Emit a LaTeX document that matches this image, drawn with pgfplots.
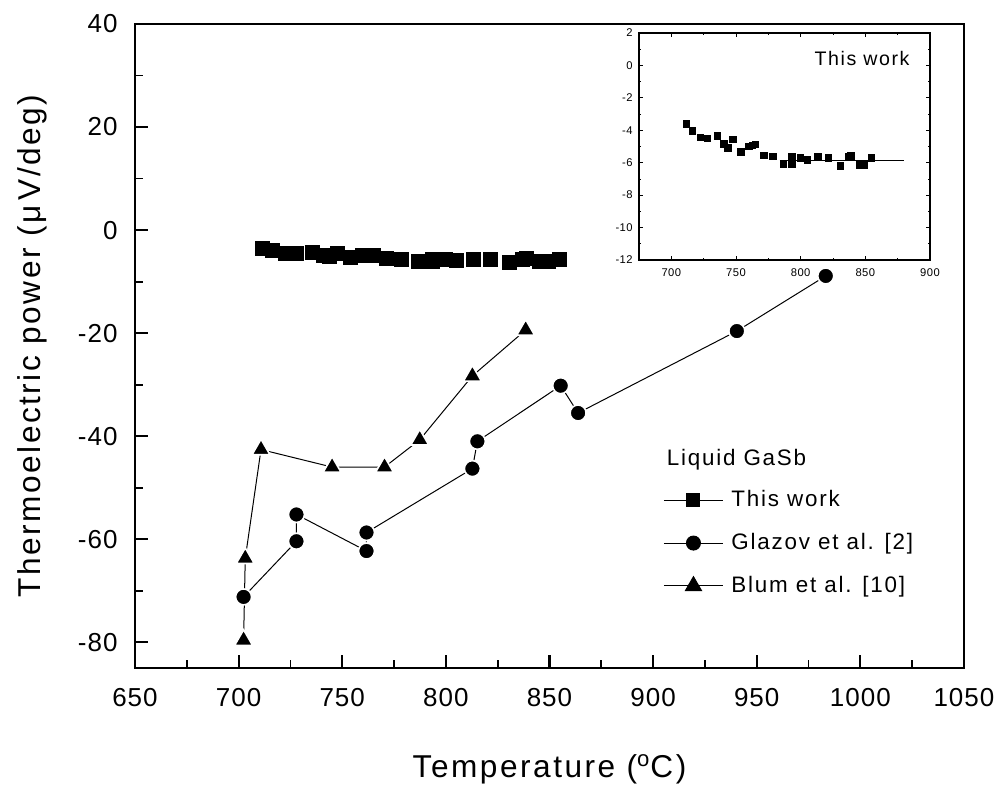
\documentclass[border=0pt]{standalone}
\usepackage{fontspec}
\setmainfont{Liberation Sans}[LetterSpace=8]
\newfontfamily\tickfont{Liberation Sans}[LetterSpace=4]
\usepackage{pgfplots}
\pgfplotsset{compat=1.18}

% this work: thermopower of liquid GaSb (uV/deg)
\pgfplotstableread{
T S
711.6 -3.60
716.3 -4.03
722.5 -4.43
727.9 -4.49
735.6 -4.34
740.8 -4.83
743.9 -5.10
747.7 -4.55
753.9 -5.35
759.9 -5.00
762.7 -4.94
765.0 -4.86
771.5 -5.55
778.7 -5.62
786.7 -6.07
793.4 -6.07
793.4 -5.62
799.9 -5.72
805.3 -5.83
813.5 -5.62
821.3 -5.72
830.6 -6.18
837.0 -5.62
838.8 -5.58
845.3 -6.13
849.4 -6.13
854.6 -5.72
}\thiswork

\pgfplotstableread{
T S
702.4 -71.2
727.9 -60.4
727.9 -55.2
761.7 -62.3
761.7 -58.7
812.8 -46.3
815.2 -41.0
855.4 -30.2
863.8 -35.5
940.4 -19.6
983.3 -8.9
}\glazov

\pgfplotstableread{
T S
702.4 -79.6
703.2 -63.7
710.8 -42.6
745.1 -46.0
770.4 -46.0
787.4 -40.7
812.8 -28.3
838.5 -19.4
}\blum

\begin{document}
\begin{tikzpicture}
\path[use as bounding box] (-67.5pt,-60pt) rectangle (433pt,334pt);
\begin{axis}[
    at={(0pt,0pt)}, anchor=south west,
    scale only axis,
    width=414.5pt, height=322pt,
    xmin=650, xmax=1050,
    ymin=-85, ymax=40,
    xtick={650,700,...,1050},
    ytick={-80,-60,...,40},
    minor x tick num=1,
    minor y tick num=1,
    tick pos=left,
    tick align=inside,
    major tick length=6.5pt,
    minor tick length=4pt,
    major tick style={black, line width=1.1pt},
    minor tick style={black, line width=0.9pt},
    axis line style={line width=1.1pt},
    /pgf/number format/assume math mode=true,
    /pgf/number format/set thousands separator={},
    ticklabel style={font=\tickfont\fontsize{13}{15}\selectfont},
    xticklabel style={anchor=base, yshift=-19pt, inner sep=0pt},
    yticklabel style={anchor=east, xshift=-8.5pt, inner sep=0pt},
    xlabel={Temperature (\textsuperscript{o}C)},
    ylabel={Thermoelectric power (μ\,V/deg)},
    label style={font=\fontsize{15.8}{18}\selectfont},
    xlabel style={at={(rel axis cs:0.5,0)}, anchor=base, yshift=-54.5pt, inner sep=0pt},
    ylabel style={at={(rel axis cs:-0.1242,0.5)}, anchor=center, inner sep=0pt},
    legend style={draw=none, fill=none, at={(rel axis cs:0.637,0.194)}, anchor=west,
        font=\fontsize{11.2}{13}\selectfont, row sep=7.8pt, inner xsep=0pt,
        nodes={inner xsep=4pt}},
    legend cell align=left,
    legend image code/.code={
        \draw[mark repeat=2, mark phase=2, #1] plot coordinates {(0pt,0pt) (14.75pt,0pt) (29.5pt,0pt)};
    },
]
\addlegendimage{black, line width=0.5pt, mark=square*, mark size=3.25pt, mark options={fill=black}}
\addlegendentry{This work}
\addlegendimage{black, line width=0.5pt, mark=*, mark size=3.5pt, mark options={fill=black}}
\addlegendentry{Glazov et al. [2]}
\addlegendimage{black, line width=0.5pt, mark=triangle*, mark size=4.6pt, mark options={fill=black}}
\addlegendentry{Blum et al. [10]}

\addplot[forget plot, only marks, mark=square*, mark size=3.5pt, mark options={fill=black, draw=black}]
    table[x=T, y=S] {\thiswork};
\addplot[forget plot, black, line width=0.5pt, mark=*, mark size=4pt,
    mark options={fill=black, draw=white, line width=0.8pt}]
    table[x=T, y=S] {\glazov};
\addplot[forget plot, black, line width=0.5pt, mark=triangle*, mark size=5.2pt,
    mark options={fill=black, draw=white, line width=0.8pt}]
    table[x=T, y=S] {\blum};

\node[anchor=west, font=\fontsize{11.2}{13}\selectfont, inner sep=0pt]
    at (rel axis cs:0.641,0.324) {Liquid GaSb};
\end{axis}

% inset
\begin{axis}[
    at={(252pt,204pt)}, anchor=south west,
    scale only axis,
    width=145.5pt, height=113.5pt,
    xmin=675, xmax=900,
    ymin=-12, ymax=2,
    xtick={700,750,...,900},
    ytick={-12,-10,...,2},
    minor x tick num=1,
    minor y tick num=1,
    tick align=inside,
    major tick length=2.2pt,
    minor tick length=1.2pt,
    major tick style={black, line width=0.4pt},
    minor tick style={black, line width=0.4pt},
    axis line style={line width=0.6pt},
    axis background/.style={fill=white},
    /pgf/number format/assume math mode=true,
    ticklabel style={font=\tickfont\fontsize{5.6}{6.5}\selectfont},
    xticklabel style={anchor=base, yshift=-8.3pt, inner sep=0pt},
    yticklabel style={anchor=east, xshift=-3pt, inner sep=0pt},
]
\addplot[only marks, mark=square*, mark size=1.65pt, mark options={fill=black, draw=black}]
    table[x=T, y=S] {\thiswork};
\addplot[black, line width=0.4pt, mark=none] coordinates {(784,-5.83) (880,-5.83)};
\node[anchor=base east, font=\fontsize{9.8}{11}\selectfont, inner sep=0pt]
    at (rel axis cs:0.931,0.855) {This work};
\end{axis}
\end{tikzpicture}
\end{document}
